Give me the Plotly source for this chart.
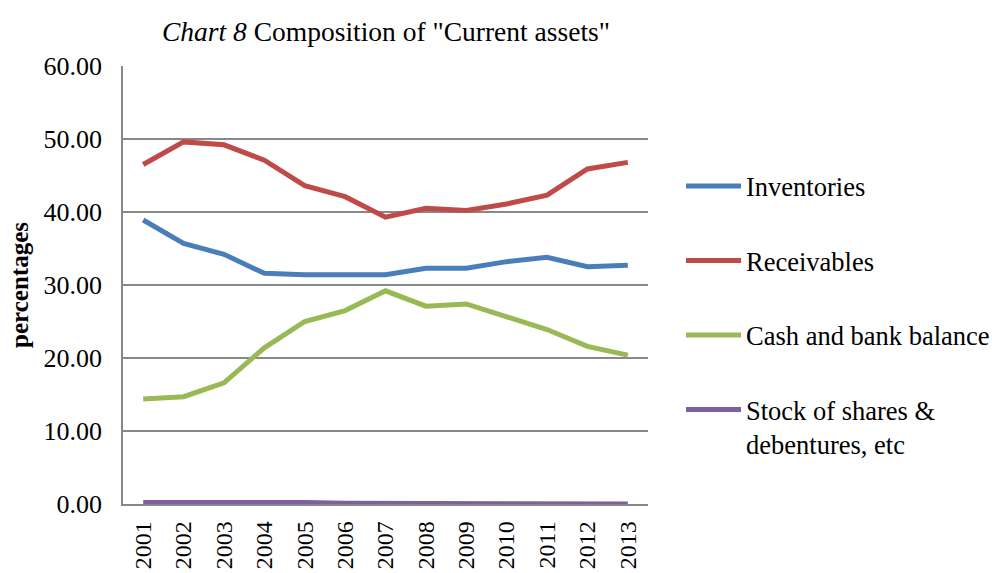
import plotly.graph_objects as go

years = [str(y) for y in range(2001, 2014)]
inventories = [38.9, 35.7, 34.2, 31.6, 31.4, 31.4, 31.4, 32.3, 32.3, 33.2, 33.8, 32.5, 32.7]
receivables = [46.5, 49.6, 49.2, 47.1, 43.6, 42.1, 39.3, 40.5, 40.2, 41.1, 42.3, 45.9, 46.8]
cash = [14.4, 14.7, 16.6, 21.4, 25.0, 26.5, 29.2, 27.1, 27.4, 25.6, 23.9, 21.6, 20.4]
stock = [0.2, 0.2, 0.3, 0.3, 0.2, 0.1, 0.1, 0.1, 0.05, 0.1, 0.02, 0.05, 0.0]

series = [
    ("Inventories", inventories, "#4A7EBB"),
    ("Receivables", receivables, "#BE4B48"),
    ("Cash and bank balance", cash, "#98B954"),
    ("Stock of shares &<br>debentures, etc", stock, "#7D60A0"),
]

font = "Liberation Serif, Times New Roman, serif"
fig = go.Figure()
for i, (name, vals, col) in enumerate(series):
    fig.add_trace(go.Scatter(x=years, y=vals, name=name, mode="lines",
                             line=dict(color=col, width=5), legendgroup=str(i)))

L, R, T, B = 123, 344, 66, 69
fig.update_layout(
    width=992, height=573,
    paper_bgcolor="white", plot_bgcolor="white",
    margin=dict(l=L, r=R, t=T, b=B, autoexpand=False),
    font=dict(family=font, size=26, color="black"),
    title=dict(text="<i>Chart 8</i> Composition of \"Current assets\"",
               x=386 / 992, xanchor="center", y=1 - 31 / 573, yanchor="middle",
               font=dict(size=27.5)),
    legend=dict(x=1 + 33 / (992 - L - R), xanchor="left", y=0.78, yanchor="top",
                tracegroupgap=37, valign="top", font=dict(size=26.5), itemwidth=55),
    showlegend=True,
)
fig.update_xaxes(type="category", tickangle=-90, showgrid=False, range=[-0.5, 12.5],
                 showline=True, linecolor="#888888", linewidth=1.5,
                 ticks="", tickfont=dict(size=24), ticklabelstandoff=6)
fig.update_yaxes(range=[0, 60], dtick=10, tickformat=".2f",
                 showgrid=True, gridcolor="#888888", gridwidth=1.5,
                 showline=True, linecolor="#888888", linewidth=1.5,
                 zeroline=False, ticks="", tickfont=dict(size=26), ticklabelstandoff=14,
                 title=dict(text="<b>percentages</b>", font=dict(size=25), standoff=8))

fig.write_html("out.html", config={"displayModeBar": False},
               post_script="document.body.style.margin='0';document.body.style.overflow='hidden';")
